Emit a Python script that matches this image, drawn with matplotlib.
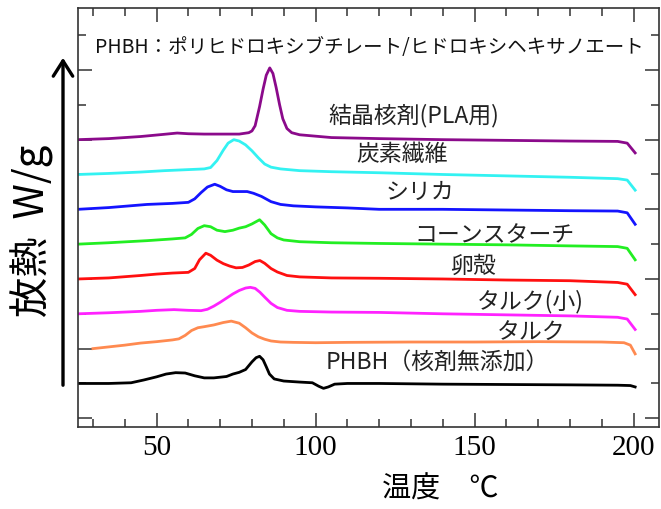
import matplotlib
matplotlib.use("Agg")
import matplotlib.pyplot as plt
from matplotlib.ticker import MultipleLocator, NullFormatter

plt.rcParams['font.family'] = ['Noto Sans CJK JP', 'DejaVu Sans']

# temperature (degC) / relative heat flow, one pair per sample
# order: bottom -> top
names = ['PHBH（核剤無添加）', 'タルク', 'タルク(小)', '卵殻',
         'コーンスターチ', 'シリカ', '炭素繊維', '結晶核剤(PLA用)']
colors = ['black', '#ff8a50', '#ff22ff', '#ff1010',
          '#22ee22', '#1414ff', '#33f2f2', '#8b0a8b']
offsets = [1, 2, 3, 4, 5, 6, 7, 8]

t_black = [25.3, 35, 42, 46, 50, 53, 56, 59, 62, 65, 68, 72, 74, 76, 78, 80, 81.3, 82.4,
           83.5, 84.5, 85.5, 87, 90, 95, 99, 101, 102.5, 104, 106, 110, 120, 140, 160,
           180, 195, 199, 200.5]
q_black = [0, 0, 0.02, 0.1, 0.19, 0.27, 0.31, 0.3, 0.22, 0.16, 0.16, 0.2, 0.27, 0.32, 0.4,
           0.62, 0.74, 0.78, 0.68, 0.48, 0.27, 0.13, 0.07, 0.04, 0.02, -0.08, -0.14, -0.1,
           -0.02, 0.0, 0.0, -0.02, -0.03, -0.04, -0.05, -0.06, -0.1]

t_orange = [30, 35, 40, 45, 50, 55, 57, 59, 61, 63, 65, 68, 71, 73.5, 76, 78, 80, 82, 84,
            86, 89, 93, 100, 110, 130, 150, 170, 190, 197, 199, 200.5]
q_orange = [0, 0.05, 0.1, 0.16, 0.2, 0.25, 0.28, 0.38, 0.52, 0.6, 0.63, 0.68, 0.75, 0.79,
            0.73, 0.6, 0.45, 0.34, 0.27, 0.22, 0.19, 0.18, 0.17, 0.18, 0.19, 0.19, 0.2,
            0.19, 0.17, 0.1, -0.15]

t_mag = [25.3, 35, 45, 50, 55.5, 60, 64, 66, 68, 70, 72, 74, 76, 78, 79.5, 81, 82.5, 84,
         86, 88, 91, 95, 105, 120, 140, 160, 180, 195, 198, 200.5]
q_mag = [0, 0.03, 0.07, 0.1, 0.12, 0.1, 0.09, 0.13, 0.22, 0.33, 0.45, 0.57, 0.67, 0.74,
         0.76, 0.73, 0.62, 0.48, 0.3, 0.18, 0.1, 0.07, 0.05, 0.04, 0.0, -0.03, -0.06,
         -0.1, -0.15, -0.45]

t_red = [25.3, 35, 45, 50, 55, 60, 62, 63.5, 65.5, 67, 69, 71, 73, 75, 77, 79, 81, 82.5,
         84, 86, 88, 91, 95, 105, 120, 140, 160, 180, 195, 198, 200.5]
q_red = [0, 0.03, 0.1, 0.14, 0.17, 0.19, 0.3, 0.55, 0.74, 0.68, 0.54, 0.44, 0.37, 0.32,
         0.33, 0.4, 0.5, 0.53, 0.45, 0.3, 0.2, 0.1, 0.06, 0.03, 0.02, 0.0, -0.03, -0.05,
         -0.1, -0.15, -0.45]

t_green = [25.3, 35, 47, 55, 59, 61, 63, 65, 67, 69, 71.5, 74, 76, 78, 80, 82.4, 84, 86,
           88, 90, 95, 105, 120, 140, 160, 180, 195, 198, 200.5]
q_green = [0, 0.04, 0.1, 0.15, 0.18, 0.28, 0.45, 0.53, 0.5, 0.4, 0.36, 0.4, 0.46, 0.5,
           0.58, 0.7, 0.55, 0.3, 0.18, 0.12, 0.07, 0.04, 0.02, 0.0, -0.02, -0.05, -0.07,
           -0.12, -0.45]

t_blue = [25.3, 35, 47, 55, 60, 62, 64, 66, 68.3, 70, 72, 74, 76, 78.5, 80.5, 83, 86, 89,
          93, 100, 110, 120, 140, 160, 180, 195, 198, 200.5]
q_blue = [0, 0.05, 0.14, 0.17, 0.2, 0.3, 0.48, 0.64, 0.72, 0.66, 0.56, 0.51, 0.51, 0.51,
          0.46, 0.37, 0.22, 0.14, 0.1, 0.07, 0.04, 0.0, 0.0, -0.02, -0.04, -0.05, -0.1,
          -0.43]

t_cyan = [25.3, 35, 45, 52.5, 60, 65, 67, 69, 71, 72.5, 74.3, 76, 78, 80, 82, 84, 86, 89,
          95, 105, 120, 140, 160, 180, 195, 198, 200.5]
q_cyan = [0, 0.03, 0.07, 0.11, 0.14, 0.16, 0.2, 0.4, 0.7, 0.9, 1.0, 0.96, 0.85, 0.68,
          0.48, 0.3, 0.21, 0.16, 0.11, 0.08, 0.05, 0.0, -0.04, -0.08, -0.12, -0.16, -0.45]

t_purple = [25.3, 35, 45, 52, 56.5, 60, 65, 70, 76, 79, 80, 81, 82.4, 83.5, 84.5, 85.6,
            86.6, 87.6, 88.7, 89.7, 91, 92.5, 95, 105, 120, 140, 160, 180, 195, 198, 200.5]
q_purple = [0, 0.03, 0.09, 0.15, 0.19, 0.17, 0.16, 0.16, 0.16, 0.2, 0.25, 0.4, 0.95, 1.45,
            1.85, 2.06, 1.9, 1.5, 1.0, 0.6, 0.32, 0.2, 0.14, 0.06, 0.03, 0.0, -0.02, -0.04,
            -0.05, -0.1, -0.38]

temps = [t_black, t_orange, t_mag, t_red, t_green, t_blue, t_cyan, t_purple]
flows = [q_black, q_orange, q_mag, q_red, q_green, q_blue, q_cyan, q_purple]

# label anchor points (temperature, stacked y)
label_pos = [(138.2, 1.58), (167.7, 2.47), (167.7, 3.36), (149.5, 4.37),
             (156.4, 5.23), (132.8, 6.49), (127.2, 7.56), (130.9, 8.68)]

title = 'PHBH：ポリヒドロキシブチレート/ヒドロキシヘキサノエート'

fig = plt.figure(figsize=(6.61, 5.09), dpi=100)
ax = fig.add_axes([78 / 661, 82 / 509, 581 / 661, 419 / 509])

for t, q, off, c in zip(temps, flows, offsets, colors):
    ax.plot(t, [v + off for v in q], color=c, lw=2.0, solid_joinstyle='round')

for name, (lx, ly) in zip(names, label_pos):
    ax.text(lx, ly, name, fontsize=16.5, ha='center', va='center', color='#222222')

ax.text(117, 10.66, title, fontsize=14, ha='center', va='center', color='#111111')

ax.set_xlim(25.3, 208)
ax.set_ylim(-0.25, 11.78)

ax.xaxis.set_major_locator(MultipleLocator(50))
ax.xaxis.set_minor_locator(MultipleLocator(10))
ax.yaxis.set_major_locator(MultipleLocator(2))
ax.yaxis.set_minor_locator(MultipleLocator(1))
ax.yaxis.set_major_formatter(NullFormatter())
ax.tick_params(which='both', direction='in', top=True, right=True, width=1.1, color='#333333')
ax.tick_params(which='major', length=10)
ax.tick_params(which='minor', length=5.5)
ax.tick_params(axis='x', which='major', pad=6)
for lab in ax.get_xticklabels():
    lab.set_fontfamily('Liberation Serif')
    lab.set_fontsize(21)
for sp in ax.spines.values():
    sp.set_linewidth(1.2)
    sp.set_color('#333333')

fig.text(440 / 661, 1 - 490 / 509, '温度　℃', fontsize=21, ha='center', va='center')
fig.text(32 / 661, 1 - 231 / 509, '放熱  W/g', fontsize=29, rotation=90,
         ha='center', va='center')

fig.add_artist(matplotlib.patches.FancyArrowPatch(
    (63 / 661, 1 - 388 / 509), (63 / 661, 1 - 55 / 509), transform=fig.transFigure,
    arrowstyle='->,head_length=0.55,head_width=0.35', mutation_scale=20,
    lw=2.4, color='black'))

fig.savefig('out.png', dpi=100)
